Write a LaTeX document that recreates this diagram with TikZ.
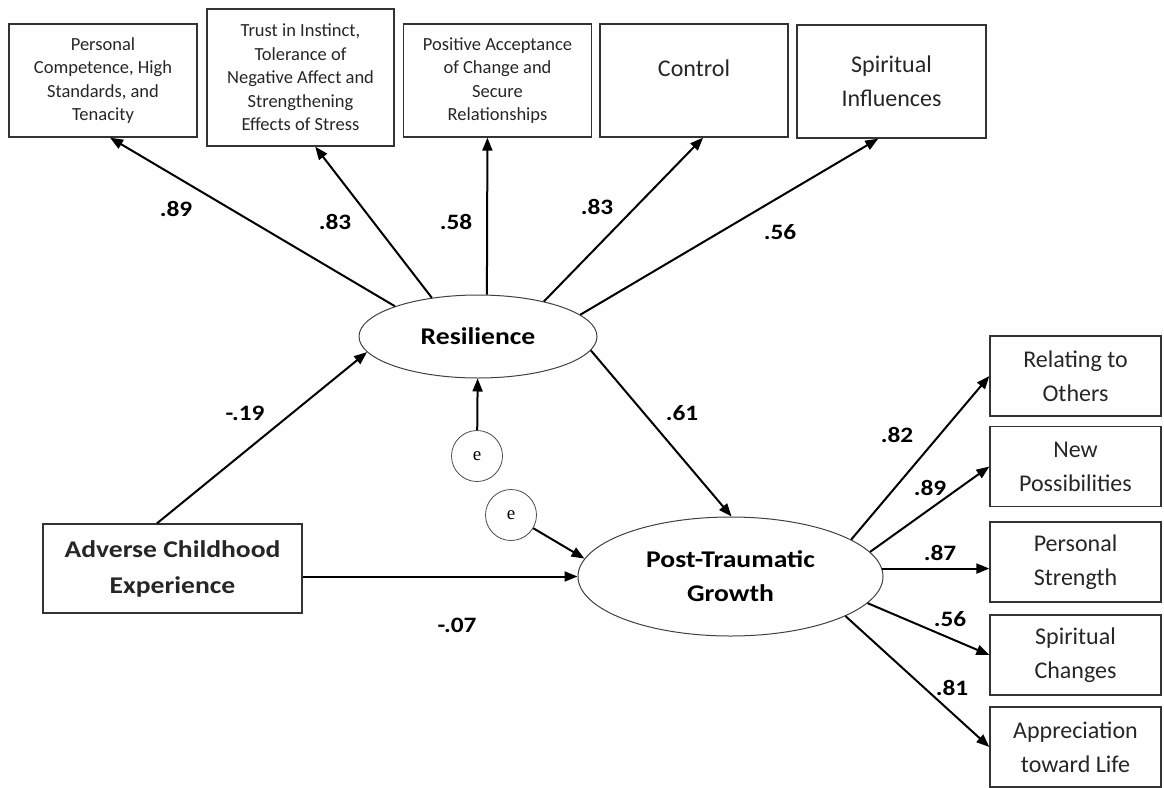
\documentclass[tikz,border=0pt]{standalone}
\usepackage{fontspec}
\setmainfont{Carlito}
\newfontfamily\lblfont{Carlito}[FakeStretch=1.15]
\newfontfamily\efont{Liberation Serif}
\usetikzlibrary{arrows.meta,shapes.geometric}

\begin{document}
\begin{tikzpicture}[x=1pt,y=-1pt,
    box/.style={draw=black!80, line width=1.3pt, align=center, inner sep=0pt, text=black!85},
    small/.style={box, minimum width=188pt, minimum height=113pt, font=\fontsize{18.5}{23.5}\selectfont},
    big/.style={box, font=\fontsize{24}{34}\selectfont},
    dim/.style={big, minimum width=171pt, minimum height=80pt},
    latent/.style={ellipse, draw=black!75, line width=1pt, inner sep=0pt, align=center, font=\lblfont\bfseries\fontsize{24}{34}\selectfont},
    err/.style={circle, draw=black!70, line width=0.8pt, minimum size=51pt, inner sep=0pt, font=\efont\fontsize{19}{20}\selectfont},
    coef/.style={font=\lblfont\bfseries\fontsize{22}{26}\selectfont},
    path/.style={-{Triangle[length=13pt,width=10pt]}, line width=2pt}]
  \useasboundingbox (0,0) rectangle (1164,787);
  % resilience factors
  \node[small] (pc) at (103,80.5) {Personal\\Competence, High\\Standards, and\\Tenacity};
  \node[small, minimum width=187pt, minimum height=137pt] (tii) at (300.5,77.5) {Trust in Instinct,\\Tolerance of\\Negative Affect and\\Strengthening\\Effects of Stress};
  \node[small] (pac) at (497.5,80.5) {Positive Acceptance\\of Change and\\Secure\\Relationships};
  \node[big, minimum width=188pt, minimum height=113pt, text depth=25pt] (ctl) at (694,80.5) {Control};
  \node[big, minimum width=189pt, minimum height=113pt] (spi) at (891.5,81.5) {Spiritual\\Influences};
  % latent variables and errors
  \node[latent, minimum width=238pt, minimum height=83pt] (res) at (478,336.5) {Resilience};
  \node[latent, minimum width=305pt, minimum height=119pt] (ptg) at (730.5,576.5) {Post-Traumatic\\Growth};
  \node[err] (e1) at (477,456) {e};
  \node[err] (e2) at (511,515) {e};
  \node[box, minimum width=259pt, minimum height=89pt, font=\lblfont\bfseries\fontsize{24}{36}\selectfont] (ace) at (172.5,568.5) {Adverse Childhood\\Experience};
  % growth domains
  \node[dim] (rto) at (1075.5,376) {Relating to\\Others};
  \node[dim] (npo) at (1075.5,466.5) {New\\Possibilities};
  \node[dim] (pst) at (1075.5,562) {Personal\\Strength};
  \node[dim] (sch) at (1075.5,655) {Spiritual\\Changes};
  \node[dim] (atl) at (1075.5,747) {Appreciation\\toward Life};

  \foreach \a/\b in {160/pc.-83, 140/tii.-78, 78/pac.-100, 28/ctl.-81, 12/spi.-103}
    \draw[path] (res.\a) -- (\b);
  \foreach \a/\b in {17/rto, 10/npo, -11/sch, -19/atl}
    \draw[path] (ptg.\a) -- (\b.west);
  \draw[path] (ptg.3) -- (ptg.3 -| pst.west);
  \draw[path] (ace.109) -- (res.188);
  \draw[path] (ace.east |- ptg.west) -- (ptg.west);
  \draw[path] (res.-7) -- (ptg.89);
  \draw[path] (e1) -- (res);
  \draw[path] (e2) -- (ptg.173);

  % loadings
  \node[coef] (l1) at (176,209) {.89};
  \node[coef] (l2) at (335,222) {.83};
  \node[coef] (l3) at (456,222) {.58};
  \node[coef] (l4) at (597,207) {.83};
  \node[coef] (l5) at (780,232) {.56};
  \node[coef] (l6) at (245,413) {-.19};
  \node[coef] (l7) at (682,413) {.61};
  \node[coef] (l8) at (457,625) {-.07};
  \node[coef] (l9) at (897,435) {.82};
  \node[coef] (l10) at (930,488) {.89};
  \node[coef] (l11) at (940,553) {.87};
  \node[coef] (l12) at (950,619) {.56};
  \node[coef] (l13) at (952,688) {.81};
\end{tikzpicture}
\end{document}
